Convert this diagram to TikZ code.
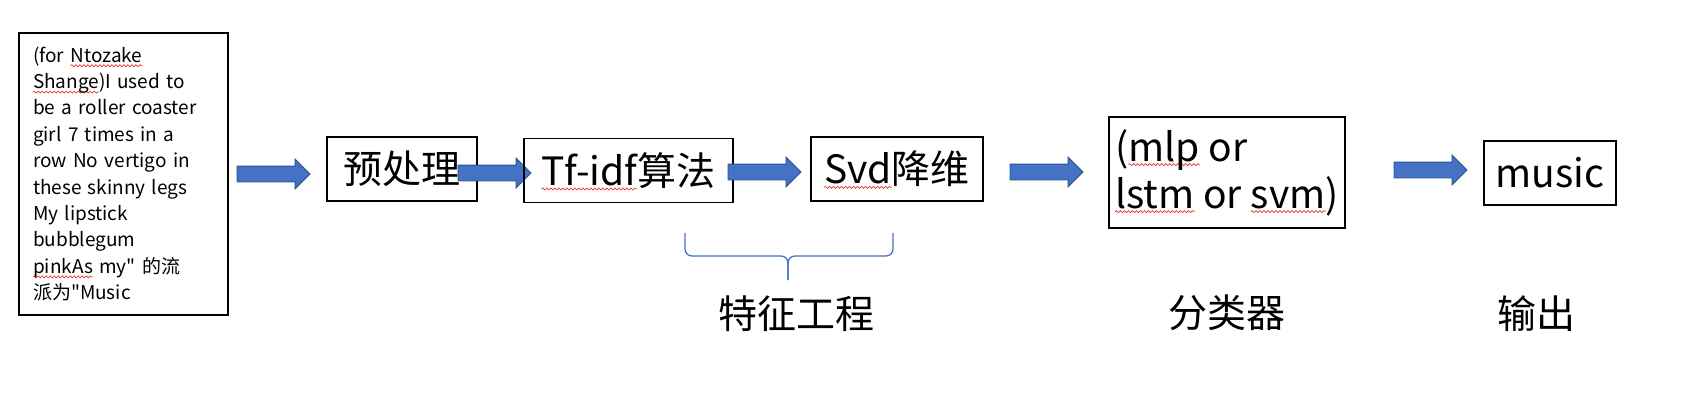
\documentclass[tikz,border=0pt]{standalone}
\usepackage{fontspec}
\setmainfont{Noto Sans CJK SC}[Ligatures=TeXOff]
\usepackage{xcolor}
\usepackage{tikz}
\usetikzlibrary{positioning,shapes.arrows,decorations.pathmorphing}
\definecolor{flowblue}{HTML}{4472C4}
\definecolor{flowedge}{HTML}{2F528F}
\definecolor{squigred}{HTML}{E8382E}
\newcommand\bigtxt{\fontsize{39}{47}\selectfont}
\newcommand\smalltxt{\fontsize{19}{26.4}\selectfont}
\newsavebox\squigbox
\newlength\squiglen
\newcommand\squig[1]{\sbox\squigbox{#1}\setlength\squiglen{\wd\squigbox}%
  \makebox[0pt][l]{\tikz[overlay]\draw[squigred, line width=0.7pt, decorate,
    decoration={snake, amplitude=1pt, segment length=4pt}] (0pt,-3.5pt) -- (\squiglen,-3.5pt);}%
  \usebox\squigbox}
\tikzset{
  stage/.style={draw, line width=1.6pt, inner sep=0pt, outer sep=0pt, align=center, font=\bigtxt, minimum height=64pt},
  flowarr/.style={single arrow, draw=flowedge, fill=flowblue, line width=0.8pt, inner xsep=0pt, inner ysep=7.5pt, outer sep=0pt,
    minimum height=73pt, single arrow head extend=7pt, single arrow head indent=0pt},
  caption/.style={font=\bigtxt, inner sep=0pt},
  bracket/.style={draw=flowblue, line width=1.3pt, rounded corners=7pt}
}
\begin{document}
\begin{tikzpicture}[x=1pt, y=-1pt]
\useasboundingbox (0,0) rectangle (1704,402);
\node[draw, line width=1.6pt, outer sep=0pt, minimum width=209pt, minimum height=282pt, inner xsep=14pt, inner ysep=0pt,
  text width=181pt, align=left, font=\smalltxt] (lyric) at (123.5,174)
  {(for \squig{Ntozake}\\\squig{Shange})I used to\\be a roller coaster\\girl 7 times in a\\row No vertigo in\\these skinny legs\\My lipstick\\bubblegum\\\squig{pinkAs} my" 的流\\派为"Music};
\node[flowarr, right=9pt of lyric] (a1) {};
\node[stage, minimum width=150pt, right=99pt of lyric, yshift=5pt] (prep) {预处理};
\node[flowarr, right=-19pt of prep, yshift=-4pt] (a2) {};
\node[stage, minimum width=209pt, right=47pt of prep, yshift=-1.5pt] (tfidf) {\squig{Tf-idf}算法};
\node[flowarr, right=-5pt of tfidf, yshift=-1.5pt] (a3) {};
\node[stage, minimum width=172pt, right=78pt of tfidf, yshift=1.5pt] (svd) {\squig{Svd}降维};
\node[flowarr, right=27pt of svd, yshift=-3pt] (a4) {};
\node[stage, minimum width=236pt, minimum height=111pt, align=left, right=126pt of svd, yshift=-3.5pt] (clf)
  {(\squig{mlp} or\\\squig{lstm} or \squig{svm})};
\node[flowarr, right=49pt of clf, yshift=2.5pt] (a5) {};
\node[stage, minimum width=132pt, right=139pt of clf, yshift=-0.5pt] (out) {music};
% brace under the feature steps
\coordinate (bl) at (685,233);
\coordinate (br) at (893,233);
\coordinate (bmid) at (788,256);
\coordinate (btip) at (788,280);
\draw[bracket] (bl) |- (bmid) -- (btip);
\draw[bracket] (br) |- (bmid) -- (btip);
\node[caption, below=15pt of btip, xshift=8pt] (fecap) {特征工程};
\node[caption] (clfcap) at (clf |- fecap) {分类器};
\node[caption, xshift=-14pt] (outcap) at (out |- fecap) {输出};
\end{tikzpicture}
\end{document}
